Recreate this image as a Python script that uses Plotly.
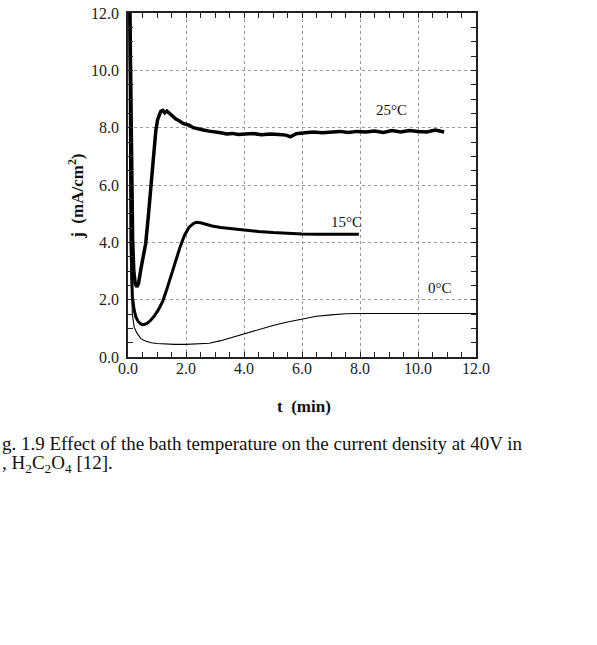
import plotly.graph_objects as go

# ---- data ----
t_25 = [0.06, 0.10, 0.13, 0.16, 0.20, 0.25, 0.30, 0.36, 0.45, 0.53, 0.61, 0.70, 0.79, 0.85, 0.90,
        0.96, 1.02, 1.08, 1.13, 1.20, 1.27, 1.34, 1.42, 1.50, 1.58, 1.65, 1.75, 1.90, 2.00, 2.12,
        2.25, 2.41, 2.6, 2.8, 3.0, 3.2, 3.4, 3.6, 3.8, 4.0, 4.3, 4.6, 4.9, 5.2, 5.45, 5.6, 5.8,
        6.1, 6.4, 6.7, 7.0, 7.3, 7.6, 7.9, 8.2, 8.5, 8.8, 9.1, 9.4, 9.7, 10.0, 10.3, 10.6, 10.9]
j_25 = [12.5, 9.0, 6.2, 4.1, 3.0, 2.55, 2.45, 2.55, 3.1, 3.5, 3.96, 4.9, 5.94, 6.7, 7.34,
        7.9, 8.28, 8.5, 8.57, 8.6, 8.52, 8.58, 8.5, 8.45, 8.38, 8.3, 8.25, 8.15, 8.12, 8.08,
        8.0, 7.95, 7.92, 7.88, 7.86, 7.82, 7.78, 7.8, 7.76, 7.78, 7.8, 7.75, 7.78, 7.76, 7.74, 7.68, 7.79,
        7.82, 7.85, 7.82, 7.86, 7.87, 7.83, 7.87, 7.85, 7.88, 7.83, 7.9, 7.85, 7.9, 7.87, 7.85, 7.92, 7.85]

t_15 = [0.06, 0.10, 0.15, 0.21, 0.27, 0.35, 0.43, 0.50, 0.58, 0.67, 0.78, 0.90, 1.05, 1.20,
        1.35, 1.50, 1.65, 1.80, 1.95, 2.10, 2.25, 2.35, 2.50, 2.70, 2.90, 3.20, 3.60, 4.00,
        4.50, 5.00, 5.50, 6.00, 6.50, 7.00, 7.50, 7.96]
j_15 = [12.5, 4.0, 2.1, 1.65, 1.4, 1.24, 1.16, 1.13, 1.14, 1.18, 1.28, 1.42, 1.65, 1.95,
        2.4, 2.9, 3.35, 3.85, 4.25, 4.52, 4.65, 4.7, 4.68, 4.62, 4.57, 4.52, 4.47, 4.43,
        4.38, 4.34, 4.31, 4.29, 4.28, 4.28, 4.27, 4.28]

t_0 = [0.06, 0.10, 0.15, 0.21, 0.30, 0.44, 0.60, 0.80, 1.00, 1.30, 1.60, 2.00, 2.40, 2.80,
       3.20, 3.60, 4.00, 4.50, 5.00, 5.50, 6.00, 6.50, 7.00, 7.50, 8.00, 9.00, 10.00, 11.00, 12.00]
j_0 = [12.5, 3.0, 1.5, 1.05, 0.85, 0.64, 0.56, 0.50, 0.47, 0.45, 0.44, 0.44, 0.45, 0.48,
       0.57, 0.69, 0.81, 0.96, 1.10, 1.22, 1.33, 1.42, 1.47, 1.51, 1.52, 1.52, 1.52, 1.52, 1.52]

tick_vals = [0, 2, 4, 6, 8, 10, 12]
tick_text = ["0.0", "2.0", "4.0", "6.0", "8.0", "10.0", "12.0"]

series_labels = ["25°C", "15°C", "0°C"]
label_pos = [(9.1, 8.6), (7.55, 4.72), (10.75, 2.4)]

caption_1 = "g. 1.9 Effect of the bath temperature on the current density at 40V in"
caption_2 = ", H<sub>2</sub>C<sub>2</sub>O<sub>4</sub> [12]."

SERIF = "Liberation Serif, Times New Roman, serif"

fig = go.Figure()
fig.add_trace(go.Scatter(x=t_25, y=j_25, mode="lines",
                         line=dict(color="black", width=3.5), showlegend=False))
fig.add_trace(go.Scatter(x=t_15, y=j_15, mode="lines",
                         line=dict(color="black", width=3), showlegend=False))
fig.add_trace(go.Scatter(x=t_0, y=j_0, mode="lines",
                         line=dict(color="black", width=1.1), showlegend=False))

axis_common = dict(
    range=[0, 12],
    tickvals=tick_vals,
    ticktext=tick_text,
    ticks="inside",
    ticklen=5,
    tickcolor="#222",
    showline=True,
    linecolor="#222",
    linewidth=1.5,
    mirror="ticks",
    showgrid=True,
    gridcolor="#999",
    griddash="dot",
    gridwidth=1,
    zeroline=False,
    automargin=False,
    tickfont=dict(family=SERIF, size=16, color="#222"),
    minor=dict(dtick=0.5, ticks="inside", ticklen=5, tickcolor="#222", showgrid=False),
)

fig.update_xaxes(**axis_common, ticklabelstandoff=-4)
fig.update_yaxes(**axis_common, ticklabelstandoff=4)

for txt, (xx, yy) in zip(series_labels, label_pos):
    fig.add_annotation(x=xx, y=yy, text=txt, showarrow=False,
                       xanchor="center", yanchor="middle",
                       font=dict(family=SERIF, size=15, color="#111"))

fig.add_annotation(xref="paper", yref="paper", x=-0.15, y=0.468,
                   xanchor="center", yanchor="middle",
                   text="<b>j  (mA/cm<sup>2</sup>)</b>", textangle=-90, showarrow=False,
                   font=dict(family=SERIF, size=17, color="#111"))
fig.add_annotation(xref="paper", yref="paper", x=0.506, y=-0.145,
                   xanchor="center", yanchor="middle",
                   text="<b>t  (min)</b>", showarrow=False,
                   font=dict(family=SERIF, size=17, color="#111"))

fig.add_annotation(xref="paper", yref="paper", x=-0.368, y=-0.25,
                   xanchor="left", yanchor="middle",
                   text=caption_1, showarrow=False,
                   font=dict(family=SERIF, size=19, color="#111"))
fig.add_annotation(xref="paper", yref="paper", x=-0.368, y=-0.31,
                   xanchor="left", yanchor="middle",
                   text=caption_2, showarrow=False,
                   font=dict(family=SERIF, size=19, color="#111"))

fig.update_layout(
    width=597, height=645,
    margin=dict(l=128, r=121, t=13, b=288),
    paper_bgcolor="white", plot_bgcolor="white",
)

fig.write_html("out.html")
